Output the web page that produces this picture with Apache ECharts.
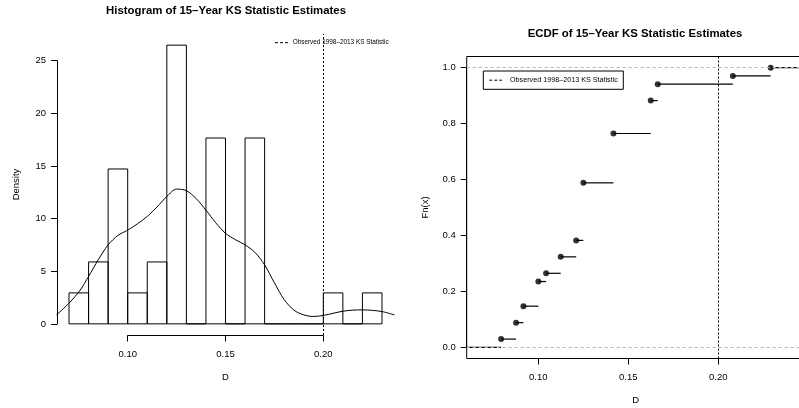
<!DOCTYPE html>
<html><head><meta charset="utf-8">
<script src="https://cdn.jsdelivr.net/npm/echarts@6/dist/echarts.min.js"></script>
<style>html,body{margin:0;padding:0;background:#fff;overflow:hidden}#c{width:812px;height:408px}</style>
</head><body><div id="c"></div>
<script>
// ---- Data ----
const histTitle = 'Histogram of 15\u2013Year KS Statistic Estimates';
const ecdfTitle = 'ECDF of 15\u2013Year KS Statistic Estimates';
const legendText = 'Observed 1998\u20132013 KS Statistic';
const observedD = 0.20;
const binEdges = [0.07,0.08,0.09,0.10,0.11,0.12,0.13,0.14,0.15,0.16,0.17,0.18,0.19,0.20,0.21,0.22,0.23];
const binDensity = [2.94,5.88,14.71,2.94,5.88,26.47,0,17.65,0,17.65,0,0,0,2.94,0,2.94];
const kdeX = [0.0636,0.0702,0.0757,0.080,0.085,0.090,0.095,0.100,0.105,0.110,0.115,0.120,0.125,0.130,0.135,0.140,0.145,0.150,0.155,0.160,0.165,0.170,0.175,0.180,0.185,0.190,0.195,0.200,0.205,0.210,0.215,0.220,0.225,0.230,0.2364];
const kdeY = [0.85,2.0,3.2,4.5,6.1,7.5,8.4,8.9,9.5,10.2,11.1,12.1,12.8,12.65,11.9,10.8,9.6,8.6,8.0,7.5,6.8,5.6,3.9,2.3,1.3,0.85,0.7,0.8,1.0,1.2,1.3,1.33,1.28,1.17,0.85];
const ecdfX = [0.0793,0.0876,0.0917,0.1000,0.1043,0.1124,0.1210,0.1250,0.1417,0.1624,0.1663,0.2080,0.2290];
const ecdfY = [0.0294,0.0882,0.1471,0.2353,0.2647,0.3235,0.3824,0.5882,0.7647,0.8824,0.9412,0.9706,1.0];
const histXTicks = [0.10,0.15,0.20];
const ecdfYTicks = [0,0.2,0.4,0.6,0.8,1.0];

// ---- Layout ----
const FONT = 'Liberation Sans, Arial, Helvetica, sans-serif';
const histXRange = [0.0636, 0.2364];
const histYRange = [-1.0588, 27.529];
const ecdfXRange = [0.0602, 0.2479];
const ecdfYRange = [-0.04, 1.04];

const histData = binDensity.map((d,i)=>[binEdges[i], binEdges[i+1], d]);
const kdeData = kdeX.map((x,i)=>[x, kdeY[i]]);
const segData = [[ecdfXRange[0], ecdfX[0], 0]].concat(
  ecdfX.map((x,i)=>[x, i < ecdfX.length-1 ? ecdfX[i+1] : ecdfXRange[1], ecdfY[i]]));
const ptData = ecdfX.map((x,i)=>[x, ecdfY[i]]);

const lab = {color:'#000', fontFamily:FONT, fontSize:9.5};
function hiddenAx(gi, min, max, extra){
  return Object.assign({type:'value', gridIndex:gi, min:min, max:max,
    axisLine:{show:false}, axisTick:{show:false}, axisLabel:{show:false}, splitLine:{show:false}}, extra||{});
}
function shownX(gi, min, max, interval, fmt){
  return {type:'value', gridIndex:gi, min:min, max:max, interval:interval, position:'bottom',
    axisLine:{show:true, lineStyle:{color:'#000', width:1}},
    axisTick:{show:true, length:6, lineStyle:{color:'#000', width:1}},
    axisLabel:Object.assign({margin:13.5, formatter:v=>v.toFixed(fmt)}, lab),
    splitLine:{show:false}};
}
function shownY(gi, min, max, interval, fmt){
  return {type:'value', gridIndex:gi, min:min, max:max, interval:interval, position:'left',
    axisLine:{show:true, lineStyle:{color:'#000', width:1}},
    axisTick:{show:true, length:6, lineStyle:{color:'#000', width:1}},
    axisLabel:Object.assign({margin:11, formatter:v=>v.toFixed(fmt)}, lab),
    splitLine:{show:false}};
}
const nameStyle = {color:'#000', fontFamily:FONT, fontSize:9.5};
const G = {outerBoundsMode:'none', containLabel:false};

const chart = echarts.init(document.getElementById('c'), null, {renderer:'canvas'});
chart.setOption({
  animation:false,
  backgroundColor:'#fff',
  grid:[
    Object.assign({left:56.5, top:34, width:338, height:301}, G),
    Object.assign({left:127.7, top:34, width:195.6, height:301.5}, G),
    Object.assign({left:57, top:60.6, width:338, height:263.3}, G),
    Object.assign({left:466.7, top:56.5, width:338, height:302, show:true, borderColor:'#000', borderWidth:1, backgroundColor:'transparent'}, G),
    Object.assign({left:538.3, top:56.5, width:180, height:302}, G),
    Object.assign({left:466.7, top:67.7, width:338, height:279.6}, G)
  ],
  xAxis:[
    hiddenAx(0, histXRange[0], histXRange[1], {name:'D', nameLocation:'middle', nameGap:37, nameTextStyle:nameStyle}),
    shownX(1, histXTicks[0], histXTicks[histXTicks.length-1], 0.05, 2),
    hiddenAx(2, 0, 1),
    hiddenAx(3, ecdfXRange[0], ecdfXRange[1], {name:'D', nameLocation:'middle', nameGap:37, nameTextStyle:nameStyle}),
    shownX(4, 0.10, 0.20, 0.05, 2),
    hiddenAx(5, 0, 1)
  ],
  yAxis:[
    hiddenAx(0, histYRange[0], histYRange[1], {name:'Density', nameLocation:'middle', nameGap:35, nameTextStyle:nameStyle}),
    hiddenAx(1, 0, 1),
    shownY(2, 0, 25, 5, 0),
    hiddenAx(3, ecdfYRange[0], ecdfYRange[1], {name:'Fn(x)', nameLocation:'middle', nameGap:36, nameTextStyle:nameStyle}),
    hiddenAx(4, 0, 1),
    shownY(5, ecdfYTicks[0], ecdfYTicks[ecdfYTicks.length-1], 0.2, 1)
  ],
  series:[
    {type:'custom', xAxisIndex:0, yAxisIndex:0, data:histData, encode:{x:[0,1], y:2}, silent:true,
      renderItem:function(params, api){
        const p0 = api.coord([api.value(0), api.value(2)]);
        const p1 = api.coord([api.value(1), 0]);
        return {type:'rect', shape:{x:p0[0], y:p0[1], width:p1[0]-p0[0], height:p1[1]-p0[1]},
          style:{fill:'none', stroke:'#000', lineWidth:1}};
      }},
    {type:'line', xAxisIndex:0, yAxisIndex:0, data:kdeData, showSymbol:false, smooth:0.3, silent:true,
      lineStyle:{color:'#000', width:1},
      markLine:{silent:true, symbol:'none', label:{show:false}, animation:false,
        lineStyle:{color:'#000', width:1, type:[2,2]}, emphasis:{disabled:true},
        data:[{xAxis:observedD}]}},
    {type:'custom', xAxisIndex:3, yAxisIndex:3, data:segData, encode:{x:[0,1], y:2}, silent:true, z:3,
      renderItem:function(params, api){
        const p0 = api.coord([api.value(0), api.value(2)]);
        const p1 = api.coord([api.value(1), api.value(2)]);
        return {type:'line', shape:{x1:p0[0], y1:p0[1], x2:p1[0], y2:p1[1]},
          style:{stroke:'#000', lineWidth:1.2}};
      }},
    {type:'scatter', xAxisIndex:3, yAxisIndex:3, data:ptData, symbol:'circle', symbolSize:6, silent:true, z:4,
      itemStyle:{color:'#000'},
      markLine:{silent:true, symbol:'none', label:{show:false}, animation:false, emphasis:{disabled:true},
        data:[
          {yAxis:0, lineStyle:{color:'#b3b3b3', width:1, type:[3,3]}},
          {yAxis:1, lineStyle:{color:'#b3b3b3', width:1, type:[3,3]}},
          {xAxis:observedD, lineStyle:{color:'#000', width:1, type:[2,2]}}
        ]}}
  ],
  graphic:[
    {type:'text', x:226, y:11, style:{text:histTitle, fill:'#000', font:'bold 11.4px '+FONT, textAlign:'center', textVerticalAlign:'middle'}},
    {type:'text', x:635, y:33.5, style:{text:ecdfTitle, fill:'#000', font:'bold 11.4px '+FONT, textAlign:'center', textVerticalAlign:'middle'}},
    {type:'line', shape:{x1:275, y1:42.7, x2:288.5, y2:42.7}, style:{stroke:'#000', lineWidth:1, lineDash:[3,2]}},
    {type:'text', x:292.7, y:42.7, style:{text:legendText, fill:'#000', font:'6.4px '+FONT, textAlign:'left', textVerticalAlign:'middle'}},
    {type:'rect', z:10, shape:{x:483.3, y:71, width:140, height:18.3}, style:{fill:'#fff', stroke:'#000', lineWidth:1}},
    {type:'line', z:11, shape:{x1:489.3, y1:80.2, x2:502, y2:80.2}, style:{stroke:'#000', lineWidth:1, lineDash:[3,2]}},
    {type:'text', z:11, x:510, y:80.2, style:{text:legendText, fill:'#000', font:'7.2px '+FONT, textAlign:'left', textVerticalAlign:'middle'}}
  ]
});
</script></body></html>
